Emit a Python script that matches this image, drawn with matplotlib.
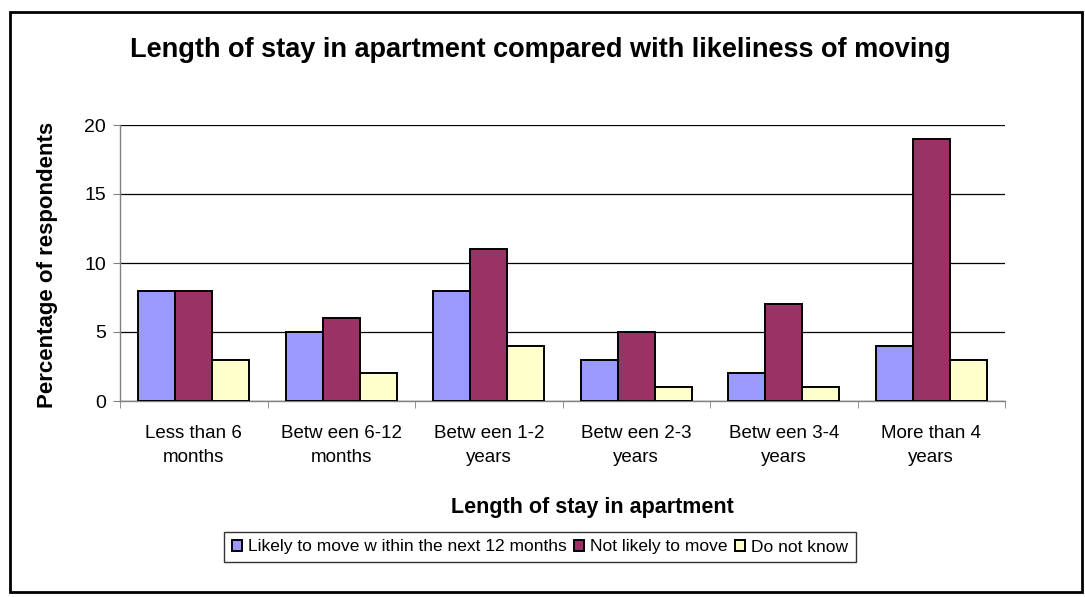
import matplotlib.pyplot as plt
import numpy as np
from matplotlib.patches import Rectangle

plt.rcParams['font.family'] = ['Liberation Sans', 'DejaVu Sans']

categories = ['Less than 6\nmonths', 'Betw een 6-12\nmonths', 'Betw een 1-2\nyears',
              'Betw een 2-3\nyears', 'Betw een 3-4\nyears', 'More than 4\nyears']
likely = [8, 5, 8, 3, 2, 4]
not_likely = [8, 6, 11, 5, 7, 19]
dont_know = [3, 2, 4, 1, 1, 3]

series_names = ['Likely to move w ithin the next 12 months', 'Not likely to move', 'Do not know']
series_colors = ['#9999FF', '#993366', '#FFFFCC']
yticks = [0, 5, 10, 15, 20]

W, H = 1085, 597
fig = plt.figure(figsize=(W / 100, H / 100), dpi=100)
ax = fig.add_axes([120 / W, 1 - 401 / H, (1005 - 120) / W, (401 - 125) / H])

x = np.arange(len(categories))
width = 0.25
for j, (vals, name, col) in enumerate(zip([likely, not_likely, dont_know], series_names, series_colors)):
    ax.bar(x + (j - 1) * width, vals, width, color=col, edgecolor='black',
           linewidth=1.4, label=name, zorder=3)

ax.set_xlim(-0.5, len(categories) - 0.5)
ax.set_ylim(0, 20)
ax.set_yticks(yticks)
ax.yaxis.grid(True, color='black', linewidth=0.9, zorder=0)
ax.set_axisbelow(True)

for s in ['top', 'right']:
    ax.spines[s].set_visible(False)
for s in ['left', 'bottom']:
    ax.spines[s].set_color('#808080')
    ax.spines[s].set_linewidth(1.0)

ax.tick_params(axis='y', length=5, color='#808080', labelsize=14, pad=5)
# category labels sit between the boundary ticks
ax.set_xticks(x)
ax.set_xticklabels(categories, fontsize=13.5, linespacing=1.55)
ax.tick_params(axis='x', which='major', length=0, pad=17)
ax.set_xticks(np.arange(len(categories) + 1) - 0.5, minor=True)
ax.tick_params(axis='x', which='minor', length=5, color='#808080')

fig.text(540 / W, 1 - 50 / H, 'Length of stay in apartment compared with likeliness of moving',
         ha='center', va='center', fontsize=19.5, fontweight='bold')
fig.text(48 / W, 1 - 265 / H, 'Percentage of respondents', rotation=90,
         ha='center', va='center', fontsize=16, fontweight='bold')
fig.text(592 / W, 1 - 507 / H, 'Length of stay in apartment',
         ha='center', va='center', fontsize=15.5, fontweight='bold')

leg = fig.legend(loc='center', bbox_to_anchor=(540 / W, 1 - 547 / H), ncol=3,
                 fontsize=12.5, frameon=True, fancybox=False, handlelength=0.6,
                 handleheight=0.6, handletextpad=0.35, columnspacing=0.4,
                 borderpad=0.45, borderaxespad=0)
leg.get_frame().set_edgecolor('black')
leg.get_frame().set_linewidth(1.0)

# chart area border
fig.add_artist(Rectangle((10 / W, 1 - 592 / H), (1082 - 10) / W, (592 - 12) / H,
                         transform=fig.transFigure, fill=False,
                         edgecolor='black', linewidth=2))

fig.savefig('out.png', dpi=100)
